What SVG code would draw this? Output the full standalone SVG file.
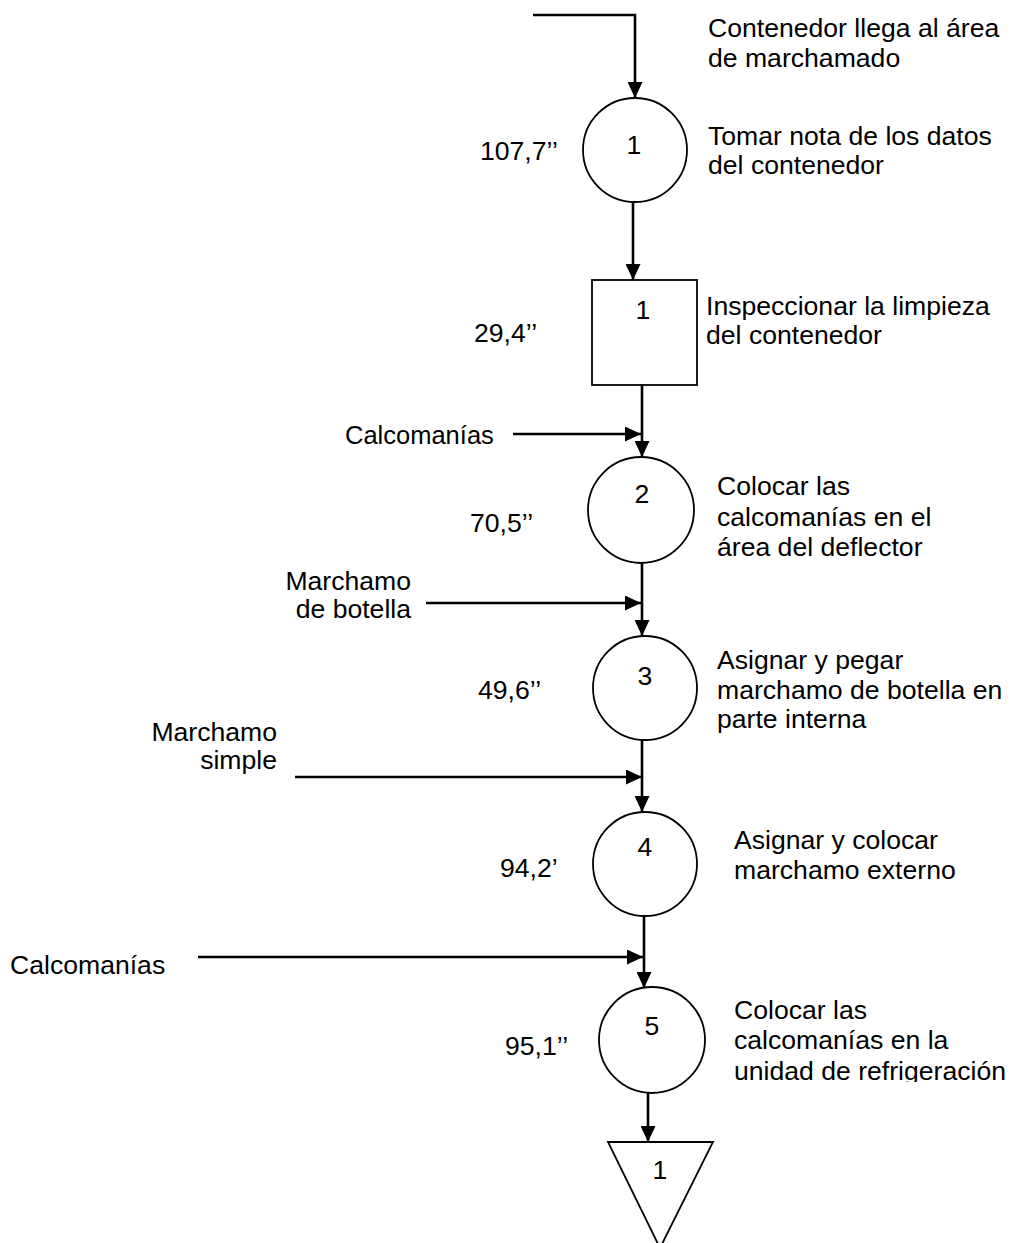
<svg xmlns="http://www.w3.org/2000/svg" width="1011" height="1243" viewBox="0 0 1011 1243">
  <style>
    text { font-family: "Liberation Sans", Arial, sans-serif; font-size: 26.6px; fill: #000; }
    .num { text-anchor: middle; }
    .end { text-anchor: end; }
    .shape { fill: #fff; stroke: #000; stroke-width: 1.8; }
    .flow { fill: none; stroke: #000; stroke-width: 2.6; }
  </style>
  <defs>
    <marker id="arrow" markerUnits="userSpaceOnUse" markerWidth="16" markerHeight="15" refX="16" refY="7.5" orient="auto">
      <path d="M0,0 L16,7.5 L0,15 z" fill="#000"/>
    </marker>
    <clipPath id="clipLast">
      <rect x="700" y="980" width="311" height="102"/>
    </clipPath>
  </defs>

  <!-- connectors -->
  <g id="connectors">
    <polyline class="flow" points="533,15 635,15 635,98" marker-end="url(#arrow)"/>
    <line class="flow" x1="633" y1="202" x2="633" y2="280" marker-end="url(#arrow)"/>
    <line class="flow" x1="642" y1="385" x2="642" y2="457" marker-end="url(#arrow)"/>
    <line class="flow" x1="513" y1="434" x2="641" y2="434" marker-end="url(#arrow)"/>
    <line class="flow" x1="642" y1="563" x2="642" y2="636" marker-end="url(#arrow)"/>
    <line class="flow" x1="426" y1="603" x2="641" y2="603" marker-end="url(#arrow)"/>
    <line class="flow" x1="642" y1="740" x2="642" y2="812" marker-end="url(#arrow)"/>
    <line class="flow" x1="295" y1="777" x2="642" y2="777" marker-end="url(#arrow)"/>
    <line class="flow" x1="644" y1="916" x2="644" y2="988" marker-end="url(#arrow)"/>
    <line class="flow" x1="198" y1="957" x2="643" y2="957" marker-end="url(#arrow)"/>
    <line class="flow" x1="648" y1="1093" x2="648" y2="1142" marker-end="url(#arrow)"/>
  </g>

  <!-- start -->
  <g id="start">
    <text x="708" y="37">Contenedor llega al área</text>
    <text x="708" y="67">de marchamado</text>
  </g>

  <!-- operation 1 -->
  <g id="op1">
    <circle class="shape" cx="635" cy="150" r="52"/>
    <text class="num" x="634" y="154">1</text>
    <text x="480" y="160">107,7’’</text>
    <text x="708" y="145">Tomar nota de los datos</text>
    <text x="708" y="174">del contenedor</text>
  </g>

  <!-- inspection 1 -->
  <g id="insp1">
    <rect class="shape" x="592" y="280" width="105" height="105"/>
    <text class="num" x="643" y="319">1</text>
    <text x="474" y="342">29,4’’</text>
    <text x="706" y="315">Inspeccionar la limpieza</text>
    <text x="706" y="344">del contenedor</text>
  </g>

  <!-- inputs -->
  <g id="in-calcomanias-1">
    <text x="345" y="444" style="font-size:25.5px">Calcomanías</text>
  </g>
  <g id="in-botella">
    <text class="end" x="411" y="590">Marchamo</text>
    <text class="end" x="411" y="618">de botella</text>
  </g>
  <g id="in-simple">
    <text class="end" x="277" y="741">Marchamo</text>
    <text class="end" x="277" y="769">simple</text>
  </g>
  <g id="in-calcomanias-2">
    <text x="10" y="974">Calcomanías</text>
  </g>

  <!-- operation 2 -->
  <g id="op2">
    <circle class="shape" cx="641" cy="510" r="53"/>
    <text class="num" x="642" y="503">2</text>
    <text x="470" y="532">70,5’’</text>
    <text x="717" y="495">Colocar las</text>
    <text x="717" y="526">calcomanías en el</text>
    <text x="717" y="556">área del deflector</text>
  </g>

  <!-- operation 3 -->
  <g id="op3">
    <circle class="shape" cx="645" cy="688" r="52"/>
    <text class="num" x="645" y="685">3</text>
    <text x="478" y="699">49,6’’</text>
    <text x="717" y="669">Asignar y pegar</text>
    <text x="717" y="699">marchamo de botella en</text>
    <text x="717" y="728">parte interna</text>
  </g>

  <!-- operation 4 -->
  <g id="op4">
    <circle class="shape" cx="645" cy="864" r="52"/>
    <text class="num" x="645" y="856">4</text>
    <text x="500" y="877">94,2’</text>
    <text x="734" y="849">Asignar y colocar</text>
    <text x="734" y="879">marchamo externo</text>
  </g>

  <!-- operation 5 -->
  <g id="op5">
    <circle class="shape" cx="652" cy="1040" r="53"/>
    <text class="num" x="652" y="1035">5</text>
    <text x="505" y="1055">95,1’’</text>
    <g clip-path="url(#clipLast)">
      <text x="734" y="1019">Colocar las</text>
      <text x="734" y="1049">calcomanías en la</text>
      <text x="734" y="1080">unidad de refrigeración</text>
    </g>
  </g>

  <!-- storage -->
  <g id="store1">
    <polygon class="shape" points="608,1142 713,1142 660,1248"/>
    <text class="num" x="660" y="1179">1</text>
  </g>
</svg>
